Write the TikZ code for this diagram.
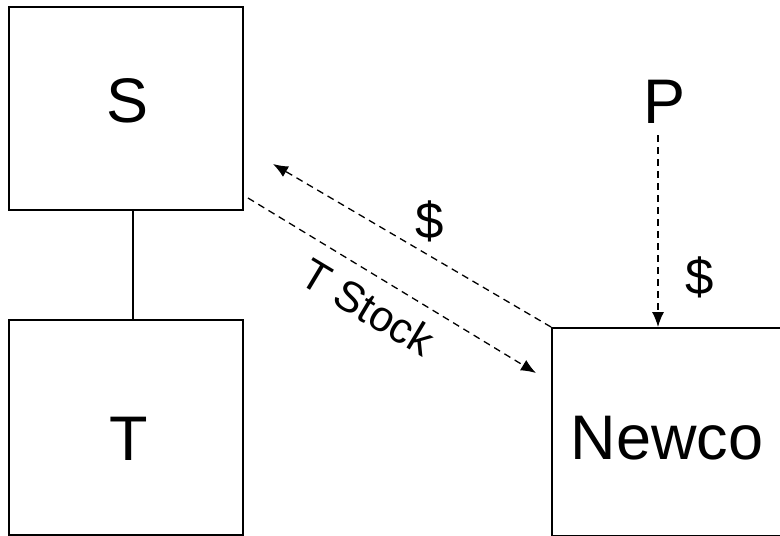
\documentclass[tikz,border=0pt]{standalone}
\usepackage{fontspec}
\setmainfont{Liberation Sans}
\usepackage{tikz}
\usetikzlibrary{calc,arrows.meta,positioning}

\tikzset{
  firm/.style={draw, line width=2pt, minimum width=234pt, inner sep=0pt},
  bigname/.style={font=\fontsize{63}{70}\selectfont, inner sep=0pt},
  flowtext/.style={font=\fontsize{51}{56}\selectfont, inner sep=0pt},
  cash/.style={line width=1.3pt, dash pattern=on 7pt off 5pt,
    -{Latex[length=15pt,width=12pt]}}
}

\begin{document}
\begin{tikzpicture}[x=1pt,y=-1pt]
                \useasboundingbox (0,0) rectangle (780,536);

                \node[firm, minimum height=203pt] (S) at (126,108.5) {};
                \node[firm, minimum height=215pt] (T) at (126,427.5) {};
                \node[firm, minimum width=232pt, minimum height=208pt] (newco) at (668,432) {};

                \node[bigname, anchor=base] (Sname) at (128,122) {S};
                \node[bigname, anchor=base] (Tname) at (129,460) {T};
                \node[bigname, anchor=base] (P) at (665,123) {P};
                \node[bigname, anchor=base] (newconame) at (667,459) {Newco};

                \draw[line width=1.5pt] ([xshift=7pt]S.south) -- ([xshift=7pt]T.north);

                \coordinate (stockStart) at ([shift={(4,-13)}]S.south east);
                \coordinate (cashTip) at ([shift={(29,-47)}]S.south east);
                \coordinate (stockTip) at ([shift={(-15,46)}]newco.north west);

                \draw[cash] (newco.north west) -- (cashTip);
                \draw[cash] (stockStart) -- (stockTip);
                \draw[cash] ([shift={(-7,12)}]P.south) -- ([xshift=-7pt]P.south |- newco.north);

                \node[flowtext] (cashS) at (430,221) {\$};
                \node[font=\fontsize{43}{48}\selectfont, inner sep=0pt, rotate=-31] (stocklabel) at (368,307) {T Stock};
                \node[flowtext] (cashP) at (700,277) {\$};

            \end{tikzpicture}
\end{document}
